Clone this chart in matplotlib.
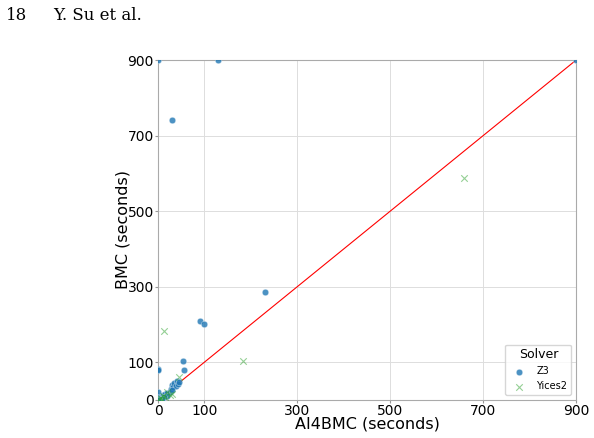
import matplotlib.pyplot as plt

z3_x = [0, 130, 900, 30, 230, 90, 100, 53, 56, 0, 0, 0, 2, 5, 10, 15, 20, 25, 28, 30, 33, 35, 38, 40, 42, 45, 20, 12, 8, 3, 1, 30]
z3_y = [900, 900, 900, 740, 285, 210, 202, 102, 78, 82, 78, 20, 8, 5, 12, 15, 18, 22, 30, 40, 35, 45, 38, 50, 42, 48, 10, 8, 3, 2, 1, 25]
y2_x = [13, 183, 658, 45, 30, 20, 10, 5, 2, 15, 25, 8, 0]
y2_y = [183, 103, 588, 60, 15, 20, 10, 5, 2, 8, 12, 3, 0]

fig = plt.figure(figsize=(5.94, 4.38), dpi=100)
ax = fig.add_axes([0.266, 0.087, 0.704, 0.776])
ax.scatter(z3_x, z3_y, s=22, color='#1f77b4', alpha=0.8, edgecolors='white', linewidths=0.3, label='Z3', zorder=3)
ax.scatter(y2_x, y2_y, s=22, marker='x', color='#2ca02c', alpha=0.5, linewidths=0.8, label='Yices2', zorder=3)
ax.plot([0, 900], [0, 900], color='red', lw=0.8, zorder=2)
ticks = [0, 100, 300, 500, 700, 900]
ax.set_xticks(ticks)
ax.set_yticks(ticks)
ax.set_xlim(0, 900)
ax.set_ylim(0, 900)
ax.tick_params(labelsize=10, length=2, pad=1, color='#999999')
ax.grid(color='#dddddd', lw=0.7)
ax.set_axisbelow(True)
for s in ax.spines.values():
    s.set_color('#aaaaaa')
ax.set_xlabel('AI4BMC (seconds)', fontsize=11.5, labelpad=-1)
ax.set_ylabel('BMC (seconds)', fontsize=11.5, labelpad=-2)
leg = ax.legend(title='Solver', loc='lower right', fontsize=7, title_fontsize=9, frameon=True)
leg.get_frame().set_edgecolor('#cccccc')
fig.text(0.01, 0.955, '18', family='serif', fontsize=12)
fig.text(0.09, 0.955, 'Y. Su et al.', family='serif', fontsize=12)
fig.savefig('out.png', dpi=100)
